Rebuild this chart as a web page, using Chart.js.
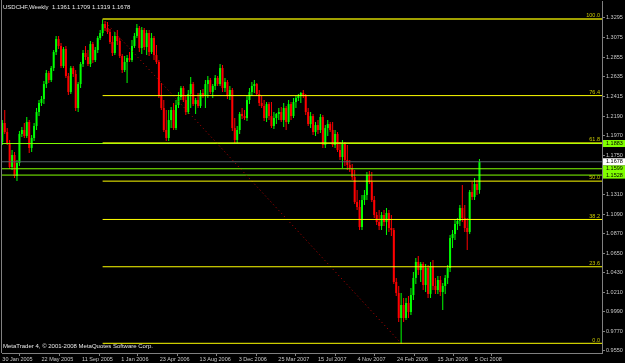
<!DOCTYPE html>
<html><head><meta charset="utf-8">
<script src="https://cdn.jsdelivr.net/npm/chart.js@4/dist/chart.umd.min.js"></script>
<style>html,body{margin:0;padding:0;background:#000;overflow:hidden}canvas{display:block}</style>
</head><body>
<canvas id="c" width="625" height="363"></canvas>
<script>
// ---- weekly USDCHF bars ----
const opens = [
1.1900,1.2114,1.2012,1.1889,1.1619,1.1754,1.1518,1.1664,1.1990,1.2035,
1.1968,1.2125,1.1833,1.1945,1.2080,1.2237,1.2339,1.2384,1.2552,1.2676,
1.2597,1.2732,1.2912,1.3058,1.2980,1.2755,1.2946,1.2642,1.2462,1.2732,
1.2665,1.2282,1.2552,1.2777,1.2901,1.2856,1.2777,1.3002,1.2822,1.2935,
1.3070,1.3126,1.3227,1.3182,1.3137,1.3025,1.2901,1.3092,1.3036,1.2867,
1.2710,1.2800,1.2845,1.2822,1.2980,1.3092,1.3182,1.2957,1.3160,1.2968,
1.3126,1.2912,1.3070,1.2878,1.2800,1.2417,1.2282,1.2035,1.1945,1.2147,
1.2260,1.2057,1.2316,1.2406,1.2507,1.2372,1.2237,1.2440,1.2552,1.2327,
1.2372,1.2305,1.2451,1.2417,1.2552,1.2597,1.2462,1.2530,1.2620,1.2552,
1.2732,1.2507,1.2575,1.2417,1.2485,1.2057,1.1923,1.2035,1.2215,1.2192,
1.2170,1.2372,1.2462,1.2530,1.2552,1.2440,1.2339,1.2305,1.2170,1.2327,
1.2192,1.2080,1.2170,1.2215,1.2237,1.2147,1.2282,1.2125,1.2327,1.2192,
1.2350,1.2395,1.2417,1.2451,1.2417,1.2237,1.2102,1.2192,1.2012,1.2091,
1.2035,1.2181,1.1866,1.2057,1.2102,1.2035,1.1866,1.1990,1.1810,1.1731,
1.1878,1.1698,1.1641,1.1608,1.1506,1.1225,1.1169,1.0944,1.1248,1.1304,
1.1529,1.1450,1.1248,1.1079,1.1000,1.0955,1.1079,1.1000,1.1102,1.0933,
1.0910,1.0326,1.0202,0.9921,1.0067,0.9921,1.0089,0.9988,1.0179,1.0371,
1.0551,1.0460,1.0528,1.0292,1.0483,1.0191,1.0506,1.0281,1.0235,1.0348,
1.0213,1.0281,1.0371,1.0483,1.0820,1.0865,1.0978,1.1012,1.1158,1.1045,
1.0933,1.0888,1.1338,1.1282,1.1428,1.1361];
const highs = [
1.2147,1.2260,1.2057,1.1923,1.1810,1.1788,1.1698,1.2024,1.2069,1.2114,
1.2181,1.2147,1.1979,1.2114,1.2282,1.2372,1.2417,1.2586,1.2710,1.2699,
1.2755,1.2935,1.3092,1.3092,1.3013,1.2968,1.2980,1.2676,1.2755,1.2755,
1.2710,1.2575,1.2800,1.2935,1.2980,1.2935,1.3036,1.3025,1.2968,1.3092,
1.3160,1.3283,1.3261,1.3250,1.3171,1.3092,1.3137,1.3160,1.3070,1.2890,
1.2867,1.2878,1.2912,1.3047,1.3126,1.3227,1.3205,1.3193,1.3182,1.3160,
1.3160,1.3126,1.3092,1.2991,1.2822,1.2564,1.2372,1.2260,1.2260,1.2294,
1.2339,1.2372,1.2462,1.2530,1.2530,1.2429,1.2485,1.2631,1.2575,1.2395,
1.2451,1.2485,1.2496,1.2597,1.2642,1.2620,1.2552,1.2654,1.2642,1.2777,
1.2766,1.2620,1.2597,1.2530,1.2507,1.2170,1.2080,1.2237,1.2282,1.2260,
1.2417,1.2507,1.2575,1.2597,1.2564,1.2485,1.2417,1.2372,1.2350,1.2350,
1.2350,1.2237,1.2226,1.2282,1.2294,1.2339,1.2305,1.2372,1.2350,1.2395,
1.2417,1.2440,1.2462,1.2485,1.2440,1.2282,1.2237,1.2215,1.2125,1.2147,
1.2215,1.2204,1.2091,1.2147,1.2125,1.2125,1.2035,1.2012,1.1900,1.1923,
1.1900,1.1866,1.1698,1.1653,1.1585,1.1360,1.1248,1.1304,1.1360,1.1563,
1.1574,1.1563,1.1293,1.1113,1.1135,1.1113,1.1135,1.1158,1.1135,1.1079,
1.0933,1.0371,1.0281,1.0202,1.0146,1.0146,1.0168,1.0258,1.0438,1.0596,
1.0618,1.0551,1.0551,1.0528,1.0517,1.0551,1.0573,1.0371,1.0393,1.0393,
1.0314,1.0404,1.0517,1.0854,1.0910,1.1023,1.1045,1.1192,1.1416,1.1192,
1.1045,1.1360,1.1450,1.1495,1.1473,1.1709];
const lows = [
1.1866,1.1990,1.1866,1.1596,1.1585,1.1495,1.1461,1.1630,1.1956,1.1945,
1.1945,1.1776,1.1788,1.1911,1.2035,1.2192,1.2305,1.2327,1.2507,1.2564,
1.2575,1.2699,1.2878,1.2946,1.2732,1.2732,1.2620,1.2429,1.2440,1.2631,
1.2249,1.2237,1.2507,1.2744,1.2822,1.2755,1.2744,1.2788,1.2800,1.2901,
1.3047,1.3092,1.3148,1.3115,1.3002,1.2867,1.2878,1.2991,1.2845,1.2676,
1.2687,1.2564,1.2800,1.2800,1.2957,1.3070,1.2912,1.2890,1.2935,1.2878,
1.2867,1.2890,1.2822,1.2777,1.2395,1.2260,1.2012,1.1911,1.1911,1.2057,
1.2035,1.2035,1.2282,1.2372,1.2350,1.2204,1.2215,1.2282,1.2305,1.2215,
1.2282,1.2282,1.2395,1.2282,1.2395,1.2440,1.2395,1.2485,1.2530,1.2530,
1.2462,1.2462,1.2384,1.2372,1.2024,1.1889,1.1889,1.1990,1.2159,1.2147,
1.2136,1.2327,1.2417,1.2451,1.2417,1.2305,1.2282,1.2136,1.2125,1.2147,
1.2057,1.2046,1.2102,1.2147,1.2125,1.2069,1.2035,1.2102,1.2147,1.2170,
1.2282,1.2361,1.2339,1.2395,1.2204,1.2080,1.2057,1.1979,1.1968,1.1990,
1.2001,1.1833,1.1833,1.1968,1.2012,1.1844,1.1833,1.1788,1.1698,1.1608,
1.1630,1.1585,1.1563,1.1473,1.1203,1.1135,1.0910,1.0910,1.1192,1.1248,
1.1428,1.1225,1.1045,1.0967,1.0910,1.0910,1.0955,1.0854,1.0888,1.0843,
1.0303,1.0168,0.9876,0.9636,0.9876,0.9898,0.9921,0.9955,1.0123,1.0303,
1.0404,1.0326,1.0235,1.0213,1.0146,1.0146,1.0235,1.0191,1.0191,1.0168,
1.0010,1.0191,1.0303,1.0438,1.0708,1.0798,1.0910,1.0955,1.1000,1.0888,
1.0685,1.0865,1.1248,1.1248,1.1304,1.1319];
const closes = [
1.2114,1.2012,1.1889,1.1619,1.1754,1.1518,1.1664,1.1990,1.2035,1.1968,
1.2125,1.1833,1.1945,1.2080,1.2237,1.2339,1.2384,1.2552,1.2676,1.2597,
1.2732,1.2912,1.3058,1.2980,1.2755,1.2946,1.2642,1.2462,1.2732,1.2665,
1.2282,1.2552,1.2777,1.2901,1.2856,1.2777,1.3002,1.2822,1.2935,1.3070,
1.3126,1.3227,1.3182,1.3137,1.3025,1.2901,1.3092,1.3036,1.2867,1.2710,
1.2800,1.2845,1.2822,1.2980,1.3092,1.3182,1.2957,1.3160,1.2968,1.3126,
1.2912,1.3070,1.2878,1.2800,1.2417,1.2282,1.2035,1.1945,1.2147,1.2260,
1.2057,1.2316,1.2406,1.2507,1.2372,1.2237,1.2440,1.2552,1.2327,1.2372,
1.2305,1.2451,1.2417,1.2552,1.2597,1.2462,1.2530,1.2620,1.2552,1.2732,
1.2507,1.2575,1.2417,1.2485,1.2057,1.1923,1.2035,1.2215,1.2192,1.2170,
1.2372,1.2462,1.2530,1.2552,1.2440,1.2339,1.2305,1.2170,1.2327,1.2192,
1.2080,1.2170,1.2215,1.2237,1.2147,1.2282,1.2125,1.2327,1.2192,1.2350,
1.2395,1.2417,1.2451,1.2417,1.2237,1.2102,1.2192,1.2012,1.2091,1.2035,
1.2181,1.1866,1.2057,1.2102,1.2035,1.1866,1.1990,1.1810,1.1731,1.1878,
1.1698,1.1641,1.1608,1.1506,1.1225,1.1169,1.0944,1.1248,1.1304,1.1529,
1.1450,1.1248,1.1079,1.1000,1.0955,1.1079,1.1000,1.1102,1.0933,1.0910,
1.0326,1.0202,0.9921,1.0067,0.9921,1.0089,0.9988,1.0179,1.0371,1.0551,
1.0460,1.0528,1.0292,1.0483,1.0191,1.0506,1.0281,1.0235,1.0348,1.0213,
1.0281,1.0371,1.0483,1.0820,1.0865,1.0978,1.1012,1.1158,1.1045,1.0933,
1.0888,1.1338,1.1282,1.1428,1.1361,1.1678];

// ---- axis ticks ----
const xTickPos = [-1.0, 15.0, 31.6, 47.6, 63.3, 79.6, 95.6, 111.8, 128.0, 144.1, 160.3, 176.8, 192.1];
const xTickLabels = ["30 Jan 2005","22 May 2005","11 Sep 2005","1 Jan 2006","23 Apr 2006","13 Aug 2006","3 Dec 2006","25 Mar 2007","15 Jul 2007","4 Nov 2007","24 Feb 2008","15 Jun 2008","5 Oct 2008"];
const yTickLabels = ["0.9550","0.9770","0.9990","1.0210","1.0430","1.0650","1.0870","1.1090","1.1310","1.1530","1.1750","1.1970","1.2190","1.2415","1.2635","1.2855","1.3075","1.3295"];

// ---- drawn objects ----
const fibLabels = ["0.0","23.6","38.2","50.0","61.8","76.4","100.0"];
const fibPrices = [0.9636, 1.0497, 1.1029, 1.1460, 1.1890, 1.2422, 1.3283];
const fibStartBar = 41, fibEndBar = 163;
const hLinePrices = [1.1883, 1.1599, 1.1528];
const bidPrice = 1.1678;
const titleText = "USDCHF,Weekly  1.1361 1.1709 1.1319 1.1678";
const copyrightText = "MetaTrader 4, \u00A9 2001-2008 MetaQuotes Software Corp.";

const X_MIN = -0.12, X_MAX = 245.08;
const BULL = '#00ff00', BEAR = '#ff0000';
const barColors = closes.map((c, i) => c >= opens[i] ? BULL : BEAR);

const datasets = [];
fibPrices.forEach((p, k) => {
  datasets.push({type:'line', order:0,
    data:[{x:fibStartBar, y:p},{x:X_MAX, y:p}],
    borderColor: k === 6 ? '#a0a000' : '#ffff00', borderWidth: k === 6 ? 2 : 1,
    pointRadius:0, fill:false});
});
datasets.push({type:'line', order:0,
  data:[{x:fibStartBar, y:fibPrices[6]},{x:fibEndBar, y:fibPrices[0]}],
  borderColor:'#c00000', borderWidth:1, borderDash:[1,3], pointRadius:0, fill:false});
hLinePrices.forEach(p => {
  datasets.push({type:'line', order:0, data:[{x:X_MIN, y:p},{x:X_MAX, y:p}],
    borderColor:'#80ff00', borderWidth:1, pointRadius:0, fill:false});
});
datasets.push({type:'line', order:0, data:[{x:X_MIN, y:bidPrice},{x:X_MAX, y:bidPrice}],
  borderColor:'#56606a', borderWidth:1, pointRadius:0, fill:false});
datasets.push({type:'bar', order:2, grouped:false,
  data: highs.map((h, i) => ({x:i, y:[lows[i], h]})),
  backgroundColor: barColors, barThickness:1, inflateAmount:0, minBarLength:1});
datasets.push({type:'bar', order:1, grouped:false,
  data: opens.map((o, i) => ({x:i, y:[o, closes[i]]})),
  backgroundColor: barColors, barThickness:2, inflateAmount:0, minBarLength:1});

const FONT = '"Liberation Sans", Arial, sans-serif';
const overlay = {
  id:'overlay',
  beforeDraw(chart){
    const c = chart.ctx;
    c.save(); c.fillStyle = '#000'; c.fillRect(0,0,chart.width,chart.height); c.restore();
  },
  beforeDatasetsDraw(chart){
    const c = chart.ctx, a = chart.chartArea;
    c.save(); c.strokeStyle = '#808080'; c.lineWidth = 1;
    c.beginPath(); c.moveTo(1.5, 0); c.lineTo(1.5, a.bottom); c.stroke(); c.restore();
  },
  afterDatasetsDraw(chart){
    const c = chart.ctx, a = chart.chartArea, y = chart.scales.y;
    c.save();
    c.font = '5.5px ' + FONT; c.fillStyle = '#c8c800';
    c.textAlign = 'right'; c.textBaseline = 'bottom';
    fibLabels.forEach((t, k) => c.fillText(t, a.right - 2, y.getPixelForValue(fibPrices[k]) - 0.5));
    c.textAlign = 'left'; c.textBaseline = 'middle';
    c.font = '6px ' + FONT; c.fillStyle = '#e8e8e8';
    c.fillText(titleText, 3, 7);
    c.fillText(copyrightText, 3, 346.5);
    c.restore();
  },
  afterDraw(chart){
    const c = chart.ctx, a = chart.chartArea, y = chart.scales.y;
    c.save();
    c.font = '5.5px ' + FONT; c.textAlign = 'left'; c.textBaseline = 'middle';
    const box = (p, bg) => {
      const py = y.getPixelForValue(p);
      c.fillStyle = bg; c.fillRect(a.right + 1, py - 3.5, chart.width - a.right - 1, 7);
      c.fillStyle = '#000'; c.fillText(p.toFixed(4), a.right + 4, py);
    };
    hLinePrices.forEach(p => box(p, '#80ff00'));
    box(bidPrice, '#ffffff');
    c.restore();
  }
};

new Chart(document.getElementById('c'), {
  type:'bar',
  data:{datasets},
  options:{
    responsive:false, animation:false, devicePixelRatio:1,
    layout:{autoPadding:false, padding:{left:2, top:1, right:0, bottom:0}},
    plugins:{legend:{display:false}, tooltip:{enabled:false}, title:{display:false}},
    scales:{
      x:{type:'linear', position:'bottom', min:X_MIN, max:X_MAX, offset:false,
        grid:{display:true, drawOnChartArea:false, color:'#808080', tickLength:3},
        border:{display:true, color:'#808080'},
        ticks:{autoSkip:false, maxRotation:0, align:'start', labelOffset:2.5, padding:0,
          color:'#c8c8c8', font:{family:FONT, size:5.5},
          callback:(v, idx) => xTickLabels[idx]},
        afterBuildTicks:(s) => { s.ticks = xTickPos.map(v => ({value:v})); },
        afterFit:(s) => { s.height = 10; s.paddingLeft = 0; s.paddingRight = 0; }
      },
      y:{type:'linear', position:'right', min:0.9527, max:1.3486,
        grid:{display:true, drawOnChartArea:false, color:'#808080', tickLength:3},
        border:{display:true, color:'#808080'},
        ticks:{autoSkip:false, padding:1, color:'#c8c8c8', font:{family:FONT, size:5.5},
          callback:(v, idx) => yTickLabels[idx]},
        afterBuildTicks:(s) => { s.ticks = yTickLabels.map(t => ({value:parseFloat(t)})); },
        afterFit:(s) => { s.width = 23; s.paddingTop = 0; s.paddingBottom = 0; }
      }
    }
  },
  plugins:[overlay]
});
</script>
</body></html>
